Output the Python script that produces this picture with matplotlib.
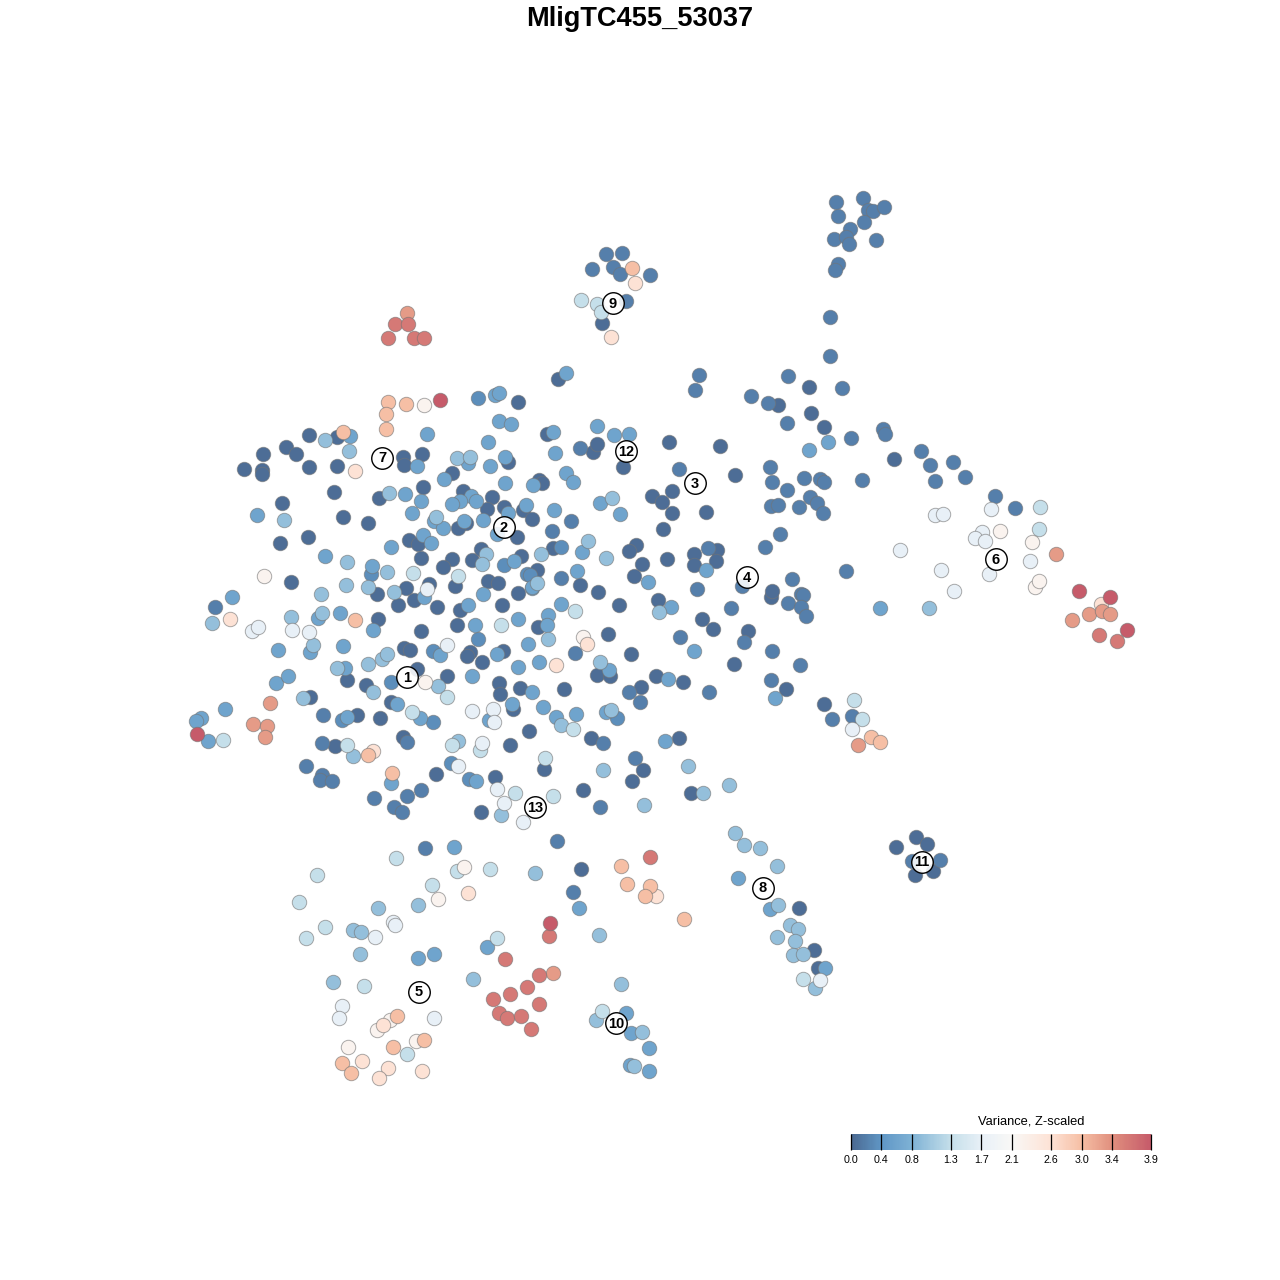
#!/usr/bin/env python3
"""t-SNE de metacélulas coloreado por varianza (MligTC455_53037)."""
import matplotlib
matplotlib.use("Agg")
import matplotlib.pyplot as plt
from matplotlib.cm import ScalarMappable
from matplotlib.colors import LinearSegmentedColormap, Normalize

plt.rcParams["font.family"] = ["Liberation Sans", "DejaVu Sans"]

TITLE = "MligTC455_53037"
CBAR_TITLE = "Variance, Z-scaled"
CBAR_TICKS = [0.0, 0.4, 0.8, 1.3, 1.7, 2.1, 2.6, 3.0, 3.4, 3.9]

CMAP_VALUES = [0.0, 0.4, 0.8, 1.3, 1.7, 2.1, 2.6, 3.0, 3.4, 3.9]
CMAP_COLORS = ["#4a6890", "#6097c6", "#7fb2d5", "#c5dfea", "#e8f0f7",
               "#f9f8f6", "#fde2d5", "#f6bfa5", "#e08f7e", "#c65b6a"]

# posiciones de las metacélulas agrupadas por nivel de varianza
level_values = [0.05, 0.2, 0.32, 0.6, 0.95, 1.3, 1.7, 2.2, 2.6, 3.0, 3.3, 3.6, 3.9]

cells_dark = [(558,379),(809,387),(778,405),(811,413),(824,427),(894,459),(518,402),
    (244,469),(262,470),(262,474),(263,454),(286,447),(296,454),(309,435),(337,437),
    (309,467),(337,466),(334,492),(282,503),(343,517),(368,523),(308,537),(280,543),(291,582),
    (403,457),(404,465),(422,454),(452,473),(508,462),(539,480),(423,487),(379,498),(463,491),
    (492,497),(487,509),(504,507),(523,510),(532,519),(466,523),(458,528),(517,537),(409,540),
    (418,544),(421,558),(452,559),(443,567),(472,560),(481,549),(521,556),(537,570),(518,593),
    (488,581),(498,583),(502,605),(455,586),(377,594),(406,588),(429,584),(414,600),(398,605),
    (437,607),(460,610),(378,619),(421,631),(457,625),(538,627),(547,434),(593,452),(597,444),
    (623,467),(669,442),(720,446),(735,475),(542,483),(652,496),(662,502),(672,491),(672,513),
    (706,512),(663,529),(553,548),(636,545),(629,551),(642,564),(634,576),(667,559),(694,554),
    (694,565),(717,550),(716,561),(580,585),(598,592),(619,605),(658,600),(702,619),(713,629),
    (748,631),(734,664),(608,634),(631,654),(597,675),(610,676),(656,676),(683,682),(641,687),
    (564,689),(404,648),(410,650),(470,652),(467,656),(482,662),(503,651),(347,680),(366,685),
    (417,669),(447,676),(499,683),(500,694),(520,688),(513,709),(391,702),(357,715),(380,718),
    (403,737),(529,731),(510,745),(335,746),(436,774),(495,777),(481,812),(310,697),(544,769),
    (591,738),(583,790),(632,781),(643,770),(679,738),(691,793),(581,869),(799,908),(814,950),
    (818,968),(824,704),(916,837),(927,844),(896,847),(933,871),(915,875),(602,323),(786,689),
    (771,597),(772,591)]

cells_slate = [(863,198),(836,202),(868,210),(873,211),(884,207),(838,216),(864,222),(850,229),
    (834,239),(846,237),(849,244),(876,240),(838,264),(835,270),(830,317),(830,356),(699,375),
    (695,390),(788,376),(842,388),(751,396),(768,403),(787,423),(851,438),(883,429),(885,434),
    (921,451),(930,465),(953,462),(935,481),(965,477),(862,480),(770,467),(772,482),(787,490),
    (804,478),(820,479),(824,482),(810,497),(817,503),(771,506),(778,505),(799,507),(823,513),
    (780,534),(765,547),(846,571),(679,469),(792,579),(788,603),(801,594),(803,595),(801,607),
    (806,616),(744,642),(772,651),(800,665),(771,680),(709,692),(640,702),(629,692),(680,637),
    (731,608),(742,586),(708,548),(697,589),(995,496),(1015,508),(606,254),(622,253),(592,269),
    (613,267),(620,274),(650,275),(626,301),(425,848),(573,892),(557,841),(635,758),(603,743),
    (600,807),(374,798),(394,807),(402,812),(407,796),(421,790),(322,743),(306,766),(322,775),
    (320,780),(332,781),(323,715),(912,861),(940,860),(852,716),(832,719),(407,742),(215,607),
    (580,448),(571,521),(552,531),(561,578),(575,653)]

cells_blue = [(504,565),(527,574),(371,574),(433,722),(342,720),(478,639),(433,651),(451,763),
    (561,547),(478,398),(391,682),(617,718),(469,779),(530,575)]

cells_mid = [(566,373),(828,442),(809,450),(880,608),(495,395),(499,393),(499,421),(511,424),
    (553,432),(555,453),(597,426),(614,435),(629,434),(566,473),(573,482),(533,485),(554,510),
    (620,514),(582,552),(577,571),(532,588),(648,582),(671,607),(706,570),(694,651),(668,679),
    (775,698),(561,604),(548,615),(547,625),(528,644),(539,662),(518,667),(518,619),(475,625),
    (609,670),(532,692),(512,704),(556,717),(543,707),(576,714),(606,712),(665,741),(489,720),
    (391,783),(476,781),(738,878),(770,909),(825,968),(579,908),(418,958),(434,954),(487,947),
    (454,847),(626,1013),(631,1033),(649,1048),(630,1065),(649,1071),(232,597),(225,709),
    (201,718),(196,721),(208,741),(278,650),(310,652),(276,683),(288,676),(257,515),(325,556),
    (340,613),(318,618),(350,436),(372,566),(424,597),(468,605),(483,594),(373,630),(343,646),
    (345,668),(440,655),(497,654),(397,704),(347,717),(420,718),(472,676),(417,466),
    (468,463),(490,466),(505,457),(488,442),(427,434),(444,479),(505,483),(405,494),(421,501),
    (412,513),(471,496),(476,501),(460,501),(452,504),(508,513),(526,505),(483,520),(464,521),
    (434,521),(443,528),(497,534),(423,535),(431,543),(391,547),(514,561),(532,587),(600,503)]

cells_light = [(457,458),(470,457),(389,493),(436,517),(347,562),(387,572),(346,585),(368,587),
    (394,592),(325,440),(349,451),(284,520),(321,594),(322,613),(291,617),(313,645),(337,668),
    (303,698),(212,623),(373,692),(368,664),(382,659),(387,654),(438,686),(486,554),
    (482,564),(537,583),(541,554),(588,541),(606,558),(612,498),(659,612),(600,662),(548,639),
    (458,741),(561,725),(611,710),(603,770),(644,805),(688,766),(703,793),(729,785),(353,756),
    (735,833),(744,845),(760,848),(777,866),(778,905),(790,925),(798,929),(777,937),(795,941),
    (793,955),(803,954),(815,988),(535,873),(418,905),(378,908),(353,930),(361,932),(360,954),
    (599,935),(473,979),(621,984),(596,1020),(642,1032),(634,1066),(333,982),(929,608),(501,815)]

cells_pale = [(581,300),(597,304),(601,312),(1040,507),(1039,529),(458,576),(413,573),(501,625),
    (575,611),(447,697),(452,745),(347,745),(480,750),(412,712),(573,729),(545,758),(223,740),
    (854,700),(862,719),(396,858),(457,871),(432,885),(317,875),(299,902),(325,927),(306,938),
    (497,938),(803,979),(364,986),(407,1054),(602,1011),(553,796),(515,793),(490,869)]

cells_white = [(900,550),(941,570),(954,591),(991,509),(935,515),(943,514),(982,532),(975,538),
    (985,541),(1030,561),(989,574),(427,589),(447,645),(252,631),(258,627),(292,630),(309,632),
    (472,711),(493,709),(494,722),(482,743),(458,766),(852,729),(497,789),(504,803),(523,822),
    (393,922),(395,925),(375,937),(342,1006),(339,1018),(434,1018),(820,980)]

cells_cream = [(424,405),(1000,531),(1032,542),(1035,587),(1039,581),(264,576),(425,682),(583,637),
    (464,867),(438,899),(390,1020),(377,1030),(416,1041),(348,1047)]

cells_blush = [(355,471),(230,619),(587,644),(556,665),(611,337),(635,283),(1101,604),(468,893),
    (656,896),(383,1025),(362,1061),(388,1068),(379,1078),(422,1071),(373,751)]

cells_peach = [(388,402),(406,404),(386,414),(386,429),(343,432),(355,620),(632,268),(368,755),
    (392,773),(871,737),(880,742),(621,866),(627,884),(650,886),(645,896),(684,919),(397,1016),
    (393,1047),(424,1040),(342,1063),(351,1073)]

cells_salmon = [(407,313),(1089,614),(1102,611),(1110,614),(1072,620),(270,703),(253,724),(267,726),
    (265,737),(858,745),(1056,554),(553,973)]

cells_rose = [(395,324),(408,324),(388,338),(414,338),(424,338),(1099,635),(1117,641),(650,857),
    (549,936),(505,959),(539,975),(527,987),(493,999),(510,994),(539,1004),(499,1013),(507,1018),
    (521,1016),(531,1029)]

cells_red = [(440,400),(1079,591),(1110,597),(1127,630),(197,734),(550,923)]

node_labels = ["1", "2", "3", "4", "5", "6", "7", "8", "9", "10", "11", "12", "13"]
node_x = [407, 504, 695, 747, 419, 996, 382, 763, 613, 616, 922, 626, 535]
node_y = [677, 527, 483, 577, 992, 559, 458, 888, 303, 1023, 862, 451, 807]

levels = [cells_dark, cells_slate, cells_blue, cells_mid, cells_light, cells_pale, cells_white,
          cells_cream, cells_blush, cells_peach, cells_salmon, cells_rose, cells_red]

cmap = LinearSegmentedColormap.from_list(
    "varianza", [(v / CMAP_VALUES[-1], c) for v, c in zip(CMAP_VALUES, CMAP_COLORS)])
norm = Normalize(CMAP_VALUES[0], CMAP_VALUES[-1])

fig = plt.figure(figsize=(12.8, 12.8), dpi=100, facecolor="white")
ax = fig.add_axes([0, 0, 1, 1])
ax.set_xlim(0, 1280)
ax.set_ylim(1280, 0)
ax.axis("off")

# de menor a mayor: los valores altos quedan encima
for val, pts in zip(level_values, levels):
    ax.scatter([p[0] + 0.5 for p in pts], [p[1] + 0.5 for p in pts], c=[val] * len(pts), cmap=cmap,
               norm=norm, s=108, edgecolors=(0.45, 0.45, 0.45, 0.6), linewidths=0.7, zorder=3)

ax.scatter(node_x, node_y, s=240, facecolor=(1, 1, 1, 0.88), edgecolor="black", linewidths=1.0,
           zorder=5)
for lab, nx, ny in zip(node_labels, node_x, node_y):
    ax.text(nx, ny + 0.5, lab, ha="center", va="center", fontsize=10.5, fontweight="bold",
            color="black", zorder=6)

fig.text(0.5, 1 - 19.5 / 1280, TITLE, ha="center", va="center", fontsize=19.6, fontweight="bold")

# barra de color
cax = fig.add_axes([850.5 / 1280, 1 - 1150 / 1280, 300.5 / 1280, 16 / 1280])
cb = fig.colorbar(ScalarMappable(norm=norm, cmap=cmap), cax=cax, orientation="horizontal",
                  ticks=CBAR_TICKS)
cb.outline.set_visible(False)
cb.ax.set_xticklabels([f"{t:.1f}" for t in CBAR_TICKS])
cb.ax.tick_params(axis="x", direction="in", length=11.5, width=0.9, color="black",
                  labelsize=7.7, pad=3.5)
fig.text(1031 / 1280, 1 - 1122 / 1280, CBAR_TITLE, ha="center", va="center", fontsize=9.3)

fig.savefig("out.png", dpi=100, facecolor="white")
